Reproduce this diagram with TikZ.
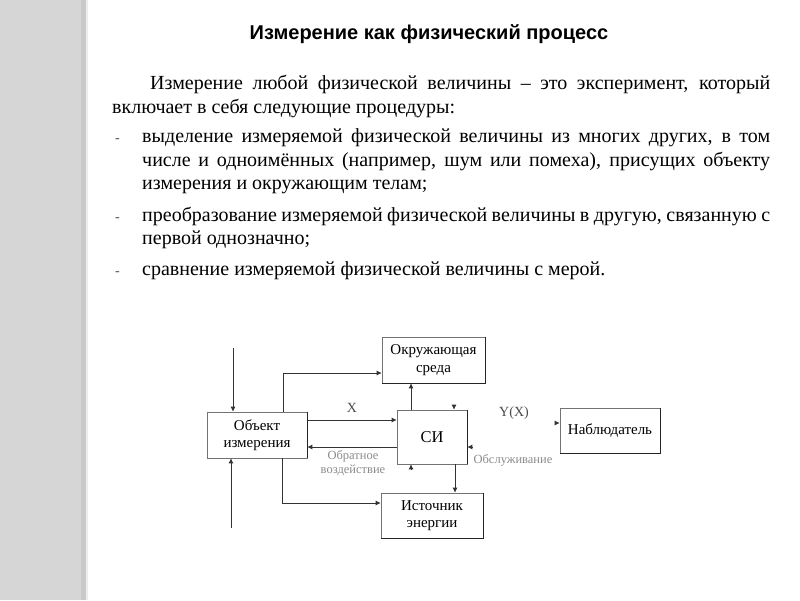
\documentclass[tikz,border=0pt]{standalone}
\usepackage{fontspec}
\setmainfont{Liberation Serif}
\newfontfamily\titlefont{Liberation Sans}
\usetikzlibrary{arrows.meta,calc}
\begin{document}
\begin{tikzpicture}[x=1pt,y=-1pt,
  box/.style={draw=black!55,line width=0.6pt,fill=white,inner sep=0pt,align=center,
    font=\fontsize{15}{17.5}\selectfont},
  shadowline/.style={draw=black!85,line width=1.3pt},
  conn/.style={draw=black!80,line width=0.75pt,-{Latex[length=5pt,width=5pt]}},
  txt/.style={anchor=base west,inner sep=0pt,font=\fontsize{20}{23.5}\selectfont},
  bulletdash/.style={anchor=base west,inner sep=0pt,text=black!70,font=\fontsize{14}{16}\selectfont},
  faded/.style={text=black!45,font=\fontsize{12.5}{14}\selectfont,inner sep=0pt,align=center},
  lbl/.style={text=black!70,font=\fontsize{14}{16}\selectfont,inner sep=0pt}]
% background
\useasboundingbox (0,0) rectangle (800,600);
\fill[white] (0,0) rectangle (800,600);
\fill[black!16] (0,0) rectangle (84,600);
\fill[black!21] (81,0) rectangle (86,600);
\fill[black!7] (86,0) rectangle (88,600);
% title
\node[font=\titlefont\bfseries\fontsize{20}{22}\selectfont,anchor=base,inner sep=0pt] (title) at (429,39.5) {Измерение как физический процесс};
% text
\node[txt] (l1) at (150,89.5) {\makebox[620pt][s]{Измерение любой физической величины – это эксперимент, который}};
\node[txt] (l2) at (112,113) {включает в себя следующие процедуры:};
\node[bulletdash] (d1) at (115,142) {-};
\node[txt] (l3) at (142,142) {\makebox[628pt][s]{выделение измеряемой физической величины из многих других, в том}};
\node[txt] (l4) at (142,166) {\makebox[628pt][s]{числе и одноимённых (например, шум или помеха), присущих объекту}};
\node[txt] (l5) at (142,189) {измерения и окружающим телам;};
\node[bulletdash] (d2) at (115,221) {-};
\node[txt] (l6) at (142,221) {\makebox[628pt][s]{преобразование измеряемой физической величины в другую, связанную с}};
\node[txt] (l7) at (142,244) {первой однозначно;};
\node[bulletdash] (d3) at (115,275) {-};
\node[txt] (l8) at (142,275) {сравнение измеряемой физической величины с мерой.};
% boxes
\node[box,minimum width=100pt,minimum height=46pt] (obj) at (257,435) {Объект\\измерения};
\node[box,minimum width=103pt,minimum height=46pt] (env) at (433.5,360) {Окружающая\\среда};
\node[box,minimum width=70pt,minimum height=54pt,font=\fontsize{16.5}{18}\selectfont] (si) at (432,437) {СИ};
\node[box,minimum width=100pt,minimum height=45pt] (obs) at (610,430.5) {Наблюдатель};
\node[box,minimum width=102pt,minimum height=45pt] (src) at (432,515.5) {Источник\\энергии};
\draw[shadowline] (obj.north east) -- (obj.south east);
\draw[shadowline] (si.north east) -- (si.south east);
\draw[shadowline] (env.north east) -- (env.south east) -- (env.south west);
\draw[shadowline] (obs.north east) -- (obs.south east) -- (obs.south west);
\draw[shadowline] (src.north east) -- (src.south east) -- (src.south west);
% connectors
\coordinate (in1) at (233,348);
\draw[conn] (in1) -- (in1 |- obj.north);
\coordinate (in2) at (231,528);
\draw[conn] (in2) -- (in2 |- obj.south);
\coordinate (c3) at (283,373);
\draw[conn] (c3 |- obj.north) -- (c3) -- (c3 -| env.west);
\coordinate (cx) at (0,420);
\draw[conn] (cx -| obj.east) -- (cx -| si.west);
\coordinate (cb) at (0,447);
\draw[conn] (cb -| si.west) -- (cb -| obj.east);
\coordinate (ce) at (411,0);
\draw[conn] (ce |- si.north) -- (ce |- env.south);
\coordinate (cs) at (455,0);
\draw[conn] (cs |- si.south) -- (cs |- src.north);
\coordinate (c8) at (282,503);
\draw[conn] (c8 |- obj.south) -- (c8) -- (c8 -| src.west);
% tip-only arrows
\coordinate (t1) at (454,404.5);
\draw[conn] (t1) -- (t1 |- si.north);
\coordinate (t2) at (411,469.5);
\draw[conn] (t2) -- (t2 |- si.south);
\coordinate (t3) at (472.5,447);
\draw[conn] (t3) -- (t3 -| si.east);
\coordinate (t4) at (554.5,423);
\draw[conn] (t4) -- (t4 -| obs.west);
% labels
\node[lbl] (lx) at (352,408) {X};
\node[lbl] (ly) at (514,413) {Y(X)};
\node[faded] (lfb) at (353,463) {Обратное\\воздействие};
\node[faded] (lsv) at (513,460) {Обслуживание};
\end{tikzpicture}
\end{document}
